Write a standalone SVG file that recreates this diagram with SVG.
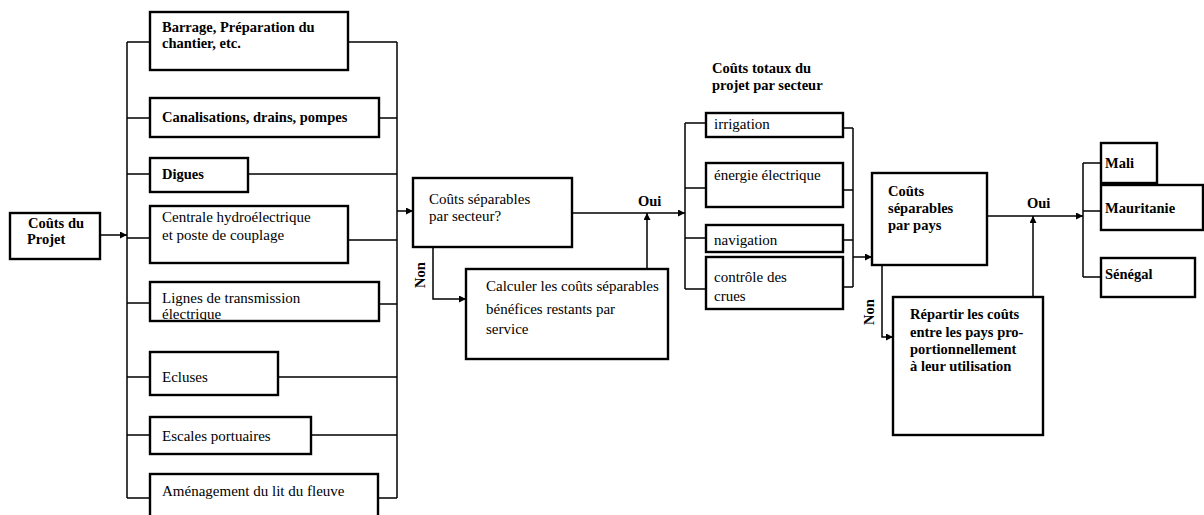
<svg xmlns="http://www.w3.org/2000/svg" width="1204" height="515" viewBox="0 0 1204 515">
<defs>
<marker id="ah2" viewBox="0 0 10 10" refX="10" refY="5" markerWidth="12" markerHeight="7" orient="auto" markerUnits="userSpaceOnUse">
<path d="M0,0 L10,5 L0,10 z" fill="#000"/>
</marker>
</defs>
<style>
.b{fill:#fff;stroke:#000;stroke-width:2.4}
.c{fill:none;stroke:#000;stroke-width:1.5}
.t{font-family:"Liberation Serif","Times New Roman",serif;font-size:15px;fill:#000}
.tb{font-family:"Liberation Serif","Times New Roman",serif;font-size:14.5px;font-weight:bold;fill:#000}
</style>
<rect width="1204" height="515" fill="#fff"/>
<g id="connectors">
<path class="c" d="M100,235 H127" marker-end="url(#ah2)"/>
<path class="c" d="M127,42 V498"/>
<path class="c" d="M127,42 H150 M127,118 H150 M127,174 H150 M127,238 H150 M127,303 H150 M127,377 H150 M127,435 H150 M127,498 H150"/>
<path class="c" d="M397,42 V498"/>
<path class="c" d="M348,42 H397 M379,118 H397 M248,174 H397 M348,240 H397 M379,304 H397 M278,377 H397 M311,435 H397 M378,498 H397"/>
<path class="c" d="M397,211 H413" marker-end="url(#ah2)"/>
<path class="c" d="M572,213 H685" marker-end="url(#ah2)"/>
<path class="c" d="M433,247 V299 H466" marker-end="url(#ah2)"/>
<path class="c" d="M647,269 V213" marker-end="url(#ah2)"/>
<path class="c" d="M685,123 V289"/>
<path class="c" d="M685,123 H706 M685,188 H706 M685,238 H706 M685,289 H706"/>
<path class="c" d="M853,128 V287"/>
<path class="c" d="M843,128 H853 M843,190 H853 M843,240 H853 M843,287 H853"/>
<path class="c" d="M853,257 H872" marker-end="url(#ah2)"/>
<path class="c" d="M987,216 H1083" marker-end="url(#ah2)"/>
<path class="c" d="M882,265 V337 H893" marker-end="url(#ah2)"/>
<path class="c" d="M1033,297 V216" marker-end="url(#ah2)"/>
<path class="c" d="M1083,163 V277"/>
<path class="c" d="M1083,163 H1101 M1083,211 H1101 M1083,277 H1101"/>
</g>
<g id="n-couts-projet"><rect class="b" x="10" y="213" width="90" height="46"/><text class="tb" x="28" y="228">Coûts du</text><text class="tb" x="27" y="244">Projet</text></g>
<g id="n-barrage"><rect class="b" x="150" y="12" width="198" height="58"/><text class="tb" x="162" y="32">Barrage, Préparation du</text><text class="tb" x="162" y="48">chantier, etc.</text></g>
<g id="n-canalisations"><rect class="b" x="150" y="98" width="229" height="39"/><text class="tb" x="162" y="122">Canalisations, drains, pompes</text></g>
<g id="n-digues"><rect class="b" x="150" y="158" width="98" height="34"/><text class="tb" x="162" y="179">Digues</text></g>
<g id="n-centrale"><rect class="b" x="150" y="206" width="198" height="57"/><text class="t" x="162" y="222">Centrale hydroélectrique</text><text class="t" x="162" y="240">et poste de couplage</text></g>
<g id="n-lignes"><rect class="b" x="150" y="282" width="229" height="39"/><text class="t" x="162" y="303">Lignes de transmission</text><text class="t" x="162" y="319">électrique</text></g>
<g id="n-ecluses"><rect class="b" x="150" y="352" width="128" height="43"/><text class="t" x="162" y="382">Ecluses</text></g>
<g id="n-escales"><rect class="b" x="150" y="417" width="161" height="37"/><text class="t" x="162" y="441">Escales portuaires</text></g>
<g id="n-amenagement"><rect class="b" x="150" y="474" width="228" height="50"/><text class="t" x="162" y="496">Aménagement du lit du fleuve</text></g>
<g id="n-separables-secteur"><rect class="b" x="413" y="178" width="159" height="69"/><text class="t" x="429" y="204">Coûts séparables</text><text class="t" x="429" y="221">par secteur?</text></g>
<g id="n-calculer"><rect class="b" x="466" y="269" width="202" height="90"/><text class="t" x="486" y="291">Calculer les coûts séparables</text><text class="t" x="486" y="314">bénéfices restants par</text><text class="t" x="486" y="334">service</text></g>
<g id="labels">
<text class="tb" x="638" y="206">Oui</text>
<text class="tb" x="0" y="0" transform="translate(425,288) rotate(-90)">Non</text>
<text class="tb" x="712" y="73">Coûts totaux du</text>
<text class="tb" x="712" y="90">projet par secteur</text>
<text class="tb" x="1027" y="208">Oui</text>
<text class="tb" x="0" y="0" transform="translate(874,325) rotate(-90)">Non</text>
</g>
<g id="n-irrigation"><rect class="b" x="706" y="113" width="137" height="24"/><text class="t" x="714" y="129">irrigation</text></g>
<g id="n-energie"><rect class="b" x="706" y="163" width="137" height="44"/><text class="t" x="714" y="180">énergie électrique</text></g>
<g id="n-navigation"><rect class="b" x="706" y="225" width="137" height="27"/><text class="t" x="714" y="245">navigation</text></g>
<g id="n-crues"><rect class="b" x="706" y="257" width="137" height="52"/><text class="t" x="714" y="282">contrôle des</text><text class="t" x="714" y="301">crues</text></g>
<g id="n-separables-pays"><rect class="b" x="872" y="173" width="115" height="92"/><text class="tb" x="888" y="196">Coûts</text><text class="tb" x="888" y="213">séparables</text><text class="tb" x="888" y="230">par pays</text></g>
<g id="n-repartir"><rect class="b" x="893" y="297" width="150" height="138"/><text class="tb" x="910" y="319">Répartir les coûts</text><text class="tb" x="910" y="337">entre les pays pro-</text><text class="tb" x="910" y="354">portionnellement</text><text class="tb" x="910" y="371">à leur utilisation</text></g>
<g id="n-mali"><rect class="b" x="1101" y="143" width="56" height="40"/><text class="tb" x="1105" y="168">Mali</text></g>
<g id="n-mauritanie"><rect class="b" x="1101" y="185" width="102" height="45"/><text class="tb" x="1105" y="213">Mauritanie</text></g>
<g id="n-senegal"><rect class="b" x="1101" y="258" width="94" height="39"/><text class="tb" x="1105" y="279">Sénégal</text></g>
</svg>
